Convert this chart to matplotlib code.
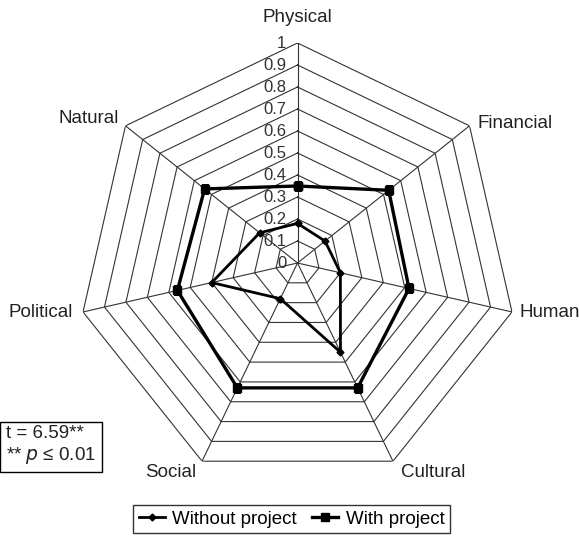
import numpy as np
import matplotlib
matplotlib.use("Agg")
import matplotlib.pyplot as plt

plt.rcParams['font.family'] = ['Liberation Sans', 'DejaVu Sans']

# 数据
categories = ['Physical', 'Financial', 'Human', 'Cultural', 'Social', 'Political', 'Natural']
without_project = [0.18, 0.16, 0.20, 0.45, 0.18, 0.40, 0.22]
with_project = [0.35, 0.53, 0.52, 0.63, 0.63, 0.56, 0.54]
grid_levels = [0.1, 0.2, 0.3, 0.4, 0.5, 0.6, 0.7, 0.8, 0.9, 1.0]
tick_labels = ['0', '0.1', '0.2', '0.3', '0.4', '0.5', '0.6', '0.7', '0.8', '0.9', '1']

n = len(categories)
theta = np.arange(n) * 2 * np.pi / n
theta_closed = np.append(theta, theta[0])

fig = plt.figure(figsize=(5.79, 5.37), dpi=100)
cx, cy, rad = 297.5 / 579, 1 - 263 / 537, 220
ax = fig.add_axes([cx - rad / 579, cy - rad / 537, 2 * rad / 579, 2 * rad / 537], projection='polar')
ax.set_theta_zero_location('N')
ax.set_theta_direction(-1)
ax.set_ylim(0, 1)
ax.grid(False)
ax.spines['polar'].set_visible(False)
ax.set_xticks([])
ax.set_yticks([])
ax.patch.set_alpha(0)

# 七边形网格
for lv in grid_levels:
    ax.plot(theta_closed, [lv] * (n + 1), color='#333333', lw=0.8, zorder=1)
for t in theta:
    ax.plot([t, t], [0, 1], color='#333333', lw=0.8, zorder=1)

# 数据线
ax.plot(theta_closed, without_project + without_project[:1], color='black', lw=2.0,
        marker='D', markersize=3.5, label='Without project', zorder=3)
ax.plot(theta_closed, with_project + with_project[:1], color='black', lw=2.4,
        marker='s', markersize=5.5, label='With project', zorder=3)

# 刻度标签
for lv, lab in zip([0] + grid_levels, tick_labels):
    ax.annotate(lab, xy=(0, lv), xytext=(-8, 0), textcoords='offset points',
                ha='right', va='center', fontsize=12, color='#333333', zorder=4)

# 类别标签
px = 0.72
offsets = [((0, 25), 'center'), ((8, 2), 'left'), ((8, -1), 'left'), ((8, -11), 'left'),
           ((-6, -11), 'right'), ((-10, -1), 'right'), ((-7, 7), 'right')]
for t, name, ((dx, dy), ha) in zip(theta, categories, offsets):
    ax.annotate(name, xy=(t, 1), xytext=(dx * px, dy * px), textcoords='offset points',
                ha=ha, va='center', fontsize=13.5, color='#222222', annotation_clip=False)

# 统计文本框
fig.text(6 / 579, 1 - 446 / 537, 't = 6.59**\n** $p$ ≤ 0.01', fontsize=13.5, color='#222222',
         ha='left', va='center', linespacing=1.2,
         bbox=dict(boxstyle='square,pad=0.3', fc='white', ec='black', lw=1))

fig.legend(loc='upper center', bbox_to_anchor=(291.5 / 579, 1 - 505 / 537), ncol=2,
           fontsize=13.5, frameon=True, fancybox=False, edgecolor='black', handlelength=1.4,
           columnspacing=0.8, handletextpad=0.4, borderpad=0.3, borderaxespad=0)
fig.legends[0].get_frame().set_linewidth(1.0)

fig.savefig('out.png', dpi=100)
